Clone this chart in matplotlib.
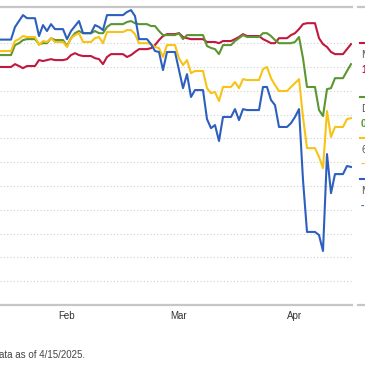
import matplotlib
matplotlib.use("Agg")
import matplotlib.pyplot as plt
import matplotlib.dates as mdates
import pandas as pd

plt.rcParams['font.family'] = ['Liberation Sans', 'DejaVu Sans']

# dias de mercado (sin MLK ni Presidents Day)
fechas = pd.bdate_range("2025-01-17", "2025-04-15").drop(pd.to_datetime(["2025-01-20", "2025-02-17"]))

rojo = [100.0, 101.2, 100.4, 99.5, 100.4,
        102.9, 102.5, 102.9, 103.3, 102.9,
        103.3, 105.0, 105.8, 105.0, 104.6,
        103.7, 103.3, 101.2, 104.2, 105.4,
        104.2, 105.0, 106.3, 107.5,
        107.9, 109.2, 111.3, 113.0, 113.8,
        114.2, 112.6, 112.1, 111.7, 111.7,
        110.5, 110.5, 110.5, 110.0, 110.9,
        111.7, 112.6, 113.8, 113.0, 113.0,
        111.7, 110.9, 110.0, 110.0, 112.1,
        113.4, 114.2, 115.9, 118.0, 118.4,
        112.1, 109.6, 108.4, 106.3, 105.4,
        107.5, 109.6]

verde = [105.0, 109.2, 110.0, 111.3, 111.7,
         109.6, 110.0, 110.0, 112.1, 111.3,
         108.8, 112.1, 114.2, 115.1, 114.2,
         115.1, 114.2, 114.2, 116.8, 118.0,
         118.9, 119.3, 118.4, 118.0,
         117.2, 117.2, 115.1, 113.4, 113.4,
         114.2, 111.7, 113.4, 113.4, 113.4,
         108.8, 108.0, 107.5, 105.4, 109.2,
         110.9, 112.1, 113.4, 112.6, 112.6,
         114.2, 114.2, 113.0, 111.3, 110.0,
         110.0, 110.5, 112.6, 103.7, 91.6,
         81.9, 79.4, 90.7, 91.1, 95.3,
         98.3, 101.2]

amarillo = [106.7, 110.9, 111.7, 113.0, 112.6,
            109.2, 110.9, 110.5, 112.1, 110.5,
            108.4, 112.1, 113.4, 114.2, 110.5,
            112.1, 112.6, 110.0, 114.7, 114.7,
            115.5, 115.5, 113.8, 110.0,
            109.6, 108.4, 107.9, 104.2, 109.2,
            103.7, 100.8, 102.9, 97.4, 98.3,
            91.1, 89.0, 89.5, 85.7, 91.6,
            93.7, 91.1, 94.9, 94.5, 94.5,
            99.1, 100.0, 95.3, 92.4, 89.9,
            91.6, 93.2, 94.9, 79.0, 65.9,
            62.2, 57.5, 81.5, 70.6, 74.8,
            78.1, 78.5]

azul = [111.5, 116.8, 119.3, 121.8, 120.5,
        113.0, 117.6, 115.1, 118.0, 115.9,
        111.7, 115.1, 117.2, 119.3, 114.2,
        117.6, 116.8, 115.5, 121.8, 121.8,
        123.1, 123.9, 121.4, 111.7,
        109.6, 106.7, 106.3, 98.7, 106.3,
        98.7, 91.1, 97.0, 87.4, 90.3,
        78.1, 74.3, 75.6, 68.9, 79.0,
        82.3, 77.7, 82.3, 81.9, 81.9,
        91.6, 91.6, 86.1, 84.0, 74.8,
        76.4, 79.0, 82.3, 52.5, 30.7,
        29.4, 22.7, 63.4, 47.0, 55.0,
        58.4, 58.0]

series = [
    (rojo, "#c0183f"),
    (verde, "#5b9632"),
    (amarillo, "#f7c317"),
    (azul, "#2d5fbf"),
]

# serie diaria: fines de semana y feriados repiten el ultimo valor
dias = pd.date_range("2025-01-17", "2025-04-15", freq="D")

fig = plt.figure(figsize=(3.65, 3.65), dpi=100)
ax = fig.add_axes([0, 60 / 365, 352 / 365, 298 / 365])

for valores, color in series:
    s = pd.Series(valores, index=fechas).reindex(dias).ffill()
    ax.plot(s.index, s.values, color=color, linewidth=1.5, solid_joinstyle="round")

ax.set_xlim(pd.Timestamp("2025-01-17 06:00"), pd.Timestamp("2025-04-15 06:00"))
ax.set_ylim(0, 125.2)

ax.set_yticks(range(10, 120, 10))
ax.yaxis.grid(True, color="#cfcfcf", linestyle=(0, (1, 2)), linewidth=0.8)
ax.tick_params(axis="y", left=False, labelleft=False)

ax.set_xticks(pd.to_datetime(["2025-02-03", "2025-03-03", "2025-04-01"]))
ax.xaxis.set_major_formatter(mdates.DateFormatter("%b"))
ax.tick_params(axis="x", length=0, pad=4, labelsize=7, labelcolor="#333333")

for lado in ["left", "right"]:
    ax.spines[lado].set_visible(False)
for lado in ["top", "bottom"]:
    ax.spines[lado].set_color("#c6c6c6")
    ax.spines[lado].set_linewidth(1.6)
ax.set_facecolor("none")

# panel de leyenda (cortado en el borde derecho)
def fy(y):
    return 1 - y / 365

for y in [7, 305]:
    fig.add_artist(plt.Line2D([358 / 365, 1], [fy(y), fy(y)], color="#c6c6c6", linewidth=1.6))

leyenda = [
    ("#c0183f", 43, "M", "1"),
    ("#5b9632", 97, "D", "0"),
    ("#f7c317", 138, "6", "–"),
    ("#2d5fbf", 179, "M", "-"),
]
for color, y, nombre, valor in leyenda:
    fig.add_artist(plt.Line2D([360 / 365, 1], [fy(y), fy(y)], color=color, linewidth=1.5))
    fig.text(361 / 365, fy(y + 12), nombre, fontsize=7.5, color="#555555", va="center")
    fig.text(361 / 365, fy(y + 27), valor, fontsize=7.5, color=color, fontweight="bold", va="center")

fig.text(-8 / 365, fy(355), "Data as of 4/15/2025.", fontsize=7, color="#444444", va="center")

fig.savefig("out.png", dpi=100)
